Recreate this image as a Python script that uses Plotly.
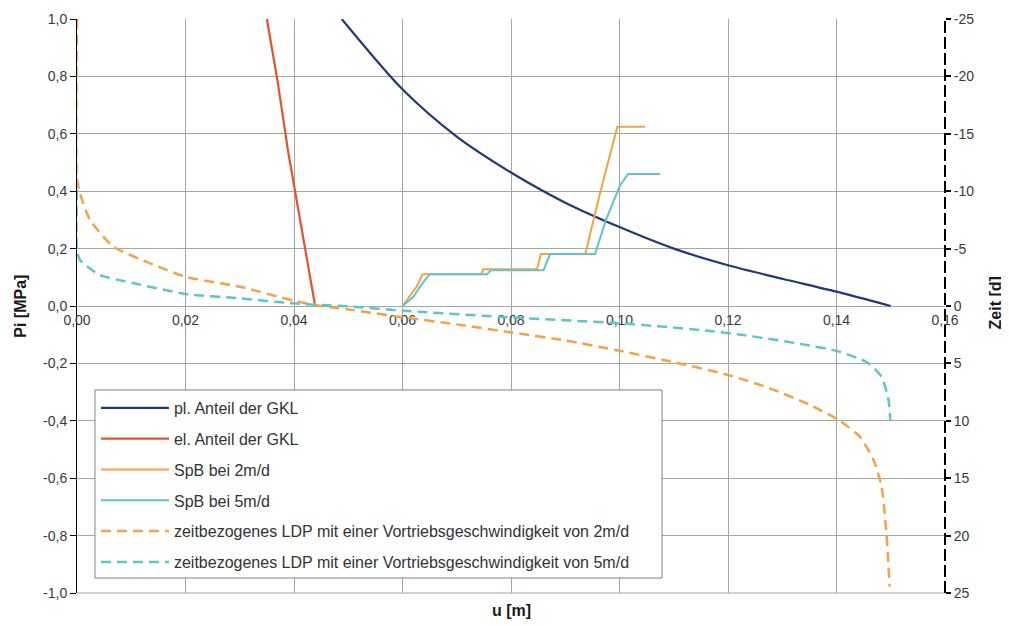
import plotly.graph_objects as go

# ---- data ----
pl_u = [0.0488, 0.060, 0.070, 0.080, 0.090, 0.100, 0.110, 0.120, 0.130, 0.140, 0.150]
pl_pi = [1.00, 0.755, 0.59, 0.465, 0.36, 0.275, 0.200, 0.142, 0.095, 0.050, 0.000]

el_u = [0.0350, 0.0370, 0.0389, 0.0402, 0.0420, 0.0439]
el_pi = [1.00, 0.78, 0.54, 0.40, 0.21, 0.00]

spb2_u = [0.0600, 0.0626, 0.0637, 0.0745, 0.0749, 0.0848, 0.0855, 0.0937, 0.0965, 0.0996, 0.1047]
spb2_pi = [0.000, 0.067, 0.111, 0.111, 0.128, 0.128, 0.181, 0.181, 0.400, 0.625, 0.625]

spb5_u = [0.0600, 0.0620, 0.0635, 0.0650, 0.0756, 0.0763, 0.0860, 0.0872, 0.0955, 0.0975, 0.1001, 0.1016, 0.1075]
spb5_pi = [0.000, 0.032, 0.075, 0.111, 0.111, 0.125, 0.125, 0.181, 0.181, 0.300, 0.420, 0.460, 0.460]

ldp2_u = [0.0, 0.0, 0.00055, 0.0024, 0.0067, 0.0135, 0.020, 0.030, 0.040, 0.045, 0.050, 0.060,
          0.070, 0.080, 0.090, 0.100, 0.110, 0.120, 0.1277, 0.135, 0.1403, 0.1443, 0.1468, 0.1483,
          0.1492, 0.1498]
ldp2_t = [-25.0, -11.0, -9.8, -7.5, -5.17, -3.72, -2.55, -1.68, -0.46, 0.0, 0.30, 0.98,
          1.60, 2.30, 3.00, 3.90, 4.90, 6.00, 7.17, 8.60, 9.90, 11.38, 13.4, 15.7,
          19.8, 24.45]

ldp5_u = [0.0, 0.0, 0.00055, 0.0042, 0.0103, 0.020, 0.030, 0.0398, 0.0509, 0.060, 0.080,
          0.100, 0.1148, 0.1228, 0.1333, 0.1403, 0.1456, 0.1483, 0.1496, 0.1499]
ldp5_t = [-10.1, -4.9, -4.0, -2.7, -2.0, -1.05, -0.67, -0.23, 0.06, 0.41, 1.00,
          1.50, 2.09, 2.53, 3.30, 3.95, 4.90, 6.16, 8.19, 9.93]

names = [
    "pl. Anteil der GKL",
    "el. Anteil der GKL",
    "SpB bei 2m/d",
    "SpB bei 5m/d",
    "zeitbezogenes LDP mit einer Vortriebsgeschwindigkeit von 2m/d",
    "zeitbezogenes LDP mit einer Vortriebsgeschwindigkeit von 5m/d",
]

x_ticks = [0.0, 0.02, 0.04, 0.06, 0.08, 0.10, 0.12, 0.14, 0.16]
y_ticks = [-1.0, -0.8, -0.6, -0.4, -0.2, 0.0, 0.2, 0.4, 0.6, 0.8, 1.0]
t_ticks = [-25, -20, -15, -10, -5, 0, 5, 10, 15, 20, 25]

x_labels = [f"{v:.2f}".replace(".", ",") for v in x_ticks]
y_labels = [f"{v:.1f}".replace(".", ",") for v in y_ticks]
t_labels = [str(v) for v in t_ticks]

NAVY = "#1f3a78"
RED = "#e8522b"
ORANGE = "#f5a244"
CYAN = "#5cc6c9"

fig = go.Figure()
fig.add_trace(go.Scatter(x=pl_u, y=pl_pi, mode="lines", name=names[0], legendgroup="a",
                         line=dict(color=NAVY, width=2.2, shape="spline", smoothing=0.8)))
fig.add_trace(go.Scatter(x=el_u, y=el_pi, mode="lines", name=names[1], legendgroup="b",
                         line=dict(color=RED, width=2.2)))
fig.add_trace(go.Scatter(x=spb2_u, y=spb2_pi, mode="lines", name=names[2], legendgroup="c",
                         line=dict(color=ORANGE, width=2)))
fig.add_trace(go.Scatter(x=spb5_u, y=spb5_pi, mode="lines", name=names[3], legendgroup="d",
                         line=dict(color=CYAN, width=2)))
fig.add_trace(go.Scatter(x=ldp2_u, y=ldp2_t, mode="lines", name=names[4], legendgroup="e",
                         yaxis="y2", cliponaxis=False,
                         line=dict(color=ORANGE, width=2.5, dash="10px,6px", shape="spline", smoothing=0.6)))
fig.add_trace(go.Scatter(x=ldp5_u, y=ldp5_t, mode="lines", name=names[5], legendgroup="f",
                         yaxis="y2", cliponaxis=False,
                         line=dict(color=CYAN, width=2.5, dash="10px,6px", shape="spline", smoothing=0.6)))

tickfont = dict(family="Liberation Sans, Arial, sans-serif", size=14, color="#3a3a3a")
GRID = "#a6a6a6"

# The page body adds an 8px offset, so the figure is 8px smaller than the window.
fig.update_layout(
    width=1001, height=618,
    margin=dict(l=69, r=64, t=11, b=33, autoexpand=False),
    paper_bgcolor="white", plot_bgcolor="white",
    font=dict(family="Liberation Sans, Arial, sans-serif", size=14, color="#333333"),
    xaxis=dict(range=[0, 0.16], tickvals=x_ticks, ticktext=x_labels, showgrid=True,
               gridcolor=GRID, gridwidth=1, zeroline=False, showline=False, automargin=False,
               anchor="free", position=0.5, ticks="", tickfont=tickfont, layer="below traces",
               ticklabelstandoff=4),
    yaxis=dict(range=[-1, 1], tickvals=y_ticks, ticktext=y_labels, showgrid=True,
               gridcolor=GRID, gridwidth=1, zeroline=False, showline=True, linecolor="black",
               linewidth=1, ticks="outside", ticklen=6, tickcolor="black", tickfont=tickfont,
               domain=[0, 1], layer="below traces", automargin=False),
    yaxis2=dict(range=[25, -25], tickvals=t_ticks, ticktext=t_labels, overlaying="y", side="right",
                showgrid=False, zeroline=False, showline=False, ticks="outside", ticklen=5,
                tickwidth=2, tickcolor="black", tickfont=tickfont, automargin=False),
    yaxis3=dict(range=[25, -25], tickvals=t_ticks, overlaying="y", side="right",
                showgrid=False, zeroline=False, showline=False, ticks="inside", ticklen=6,
                tickwidth=2, tickcolor="black", showticklabels=False, automargin=False),
    legend=dict(x=0.0207, y=0.3537, xanchor="left", yanchor="top", bgcolor="rgba(0,0,0,0)",
                bordercolor="rgba(0,0,0,0)", borderwidth=1, tracegroupgap=7, itemwidth=68,
                font=dict(size=16, color="#333333")),
    showlegend=True,
)

# legend frame (white box with grey border, as in the reference)
fig.add_shape(type="rect", xref="x domain", yref="y domain",
              x0=0.0207, x1=0.6740, y0=0.0261, y1=0.3537,
              fillcolor="white", line=dict(color="#808080", width=1), layer="above")
fig.add_shape(type="line", xref="x domain", yref="y domain", x0=1, x1=1, y0=0, y1=1,
              line=dict(color="black", width=2, dash="12px,4px"), layer="above")
fig.add_shape(type="line", xref="x domain", yref="y domain", x0=0, x1=1, y0=0, y1=0,
              line=dict(color=GRID, width=1), layer="below")

titlefont = dict(family="Liberation Sans, Arial, sans-serif", size=16, color="#1a1a1a")
fig.add_annotation(text="<b>Pi [MPa]</b>", xref="paper", yref="paper", x=-0.066, y=0.5,
                   xanchor="center", yanchor="middle",
                   textangle=-90, showarrow=False, font=titlefont)
fig.add_annotation(text="<b>Zeit [d]</b>", xref="paper", yref="paper", x=1.058, y=0.505,
                   xanchor="center", yanchor="middle",
                   textangle=-90, showarrow=False, font=titlefont)
fig.add_annotation(text="<b>u [m]</b>", xref="paper", yref="paper", x=0.5, y=-0.012,
                   xanchor="center", yanchor="top", showarrow=False, font=titlefont)

fig.write_html("out.html")
